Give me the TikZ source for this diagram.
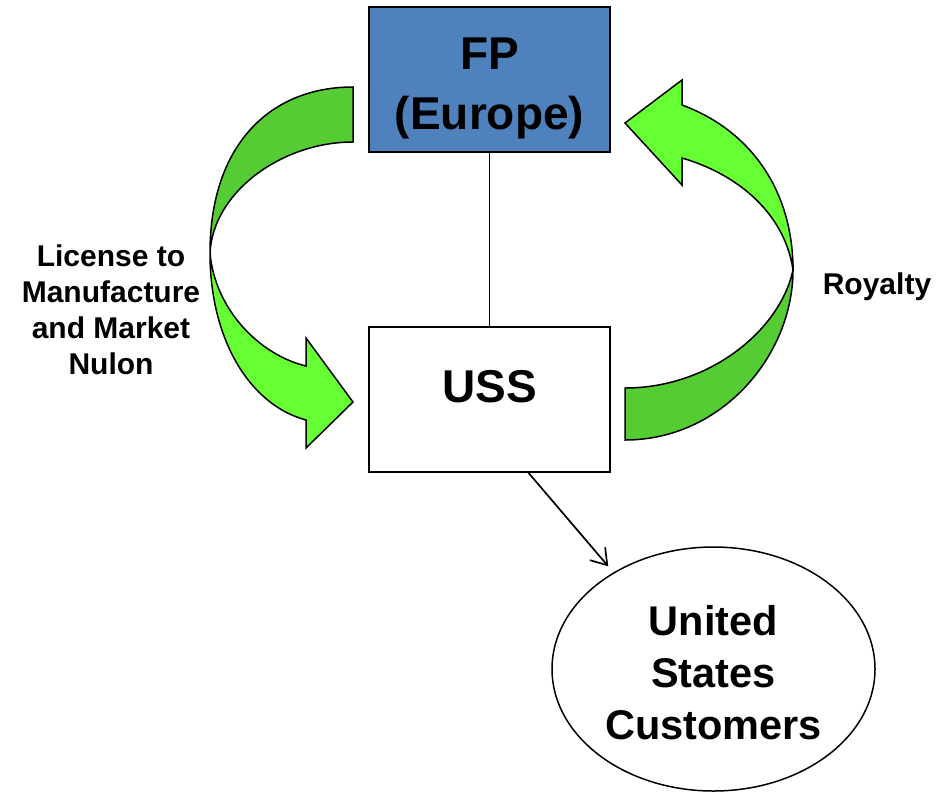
\documentclass[tikz,border=0pt]{standalone}
\usepackage{fontspec}
\setmainfont{Liberation Sans}
\usetikzlibrary{positioning,shapes.geometric,arrows.meta}
\definecolor{boxblue}{HTML}{4F81BD}
\definecolor{backgreen}{HTML}{55CC33}
\definecolor{frontgreen}{HTML}{66FF33}
\tikzstyle{blue box}=[
    draw = black,
    line width = 1.5pt,
    fill = boxblue,
    minimum width = 241pt,
    minimum height = 145pt,
    rectangle
]
\tikzstyle{back band}=[draw, line width=1.5pt, fill=backgreen]
\tikzstyle{front band}=[draw, line width=1.5pt, fill=frontgreen]

\begin{document}
\begin{tikzpicture}[x=1pt, y=-1pt, node distance={320pt},
    main/.style = {draw, line width=1.5pt, minimum width=241pt, minimum height=145pt},
    big/.style = {font=\fontsize{46}{60}\selectfont\bfseries, align=center},
    side/.style = {font=\fontsize{30}{36}\selectfont\bfseries, align=center}]
        \useasboundingbox (0,0) rectangle (936,793);

        \node[blue box, big] (fp) at (489.5,79.5) {\rule{0pt}{49pt}FP\\(Europe)};
        \node[main, big, text height=35pt, text depth=30pt] (uss) [below of = fp] {USS};
        \node[draw, ellipse, line width=1.5pt, minimum width=323pt, minimum height=244pt, inner sep=0pt,
            font=\fontsize{41.5}{52}\selectfont\bfseries, align=center] (cust) at (713.5,669) {\rule{0pt}{37pt}United\\States\\Customers};
        \node[side] (lic) at (111,310) {License to\\Manufacture\\and Market\\Nulon};
        \node[side] (roy) at (877,287) {Royalty};

        % left band: license
        \draw[back band] (353,87) .. controls (270,87) and (210,145) .. (210,253)
            .. controls (213,192) and (282,142) .. (353,142) -- cycle;
        \draw[front band] (210,253) .. controls (210,340) and (250,405) .. (306,420) -- (306,448) -- (353,402)
            -- (306,338) -- (306,366) .. controls (260,355) and (215,310) .. (210,253) -- cycle;
        % right band: royalty
        \draw[back band] (625,440) .. controls (722,440) and (793,355) .. (793,270)
            .. controls (780,330) and (710,388) .. (625,388) -- cycle;
        \draw[front band] (793,270) .. controls (793,190) and (750,130) .. (682,105) -- (682,80) -- (625,123)
            -- (682,185) -- (682,158) .. controls (740,175) and (785,215) .. (793,270) -- cycle;

        \draw[line width=1.2pt] (fp) -- (uss);
        \draw[line width=1.7pt, -{Straight Barb[length=15pt, width=20pt]}, shorten >=8pt] (uss.-62) -- (cust.136);

    \end{tikzpicture}
\end{document}
